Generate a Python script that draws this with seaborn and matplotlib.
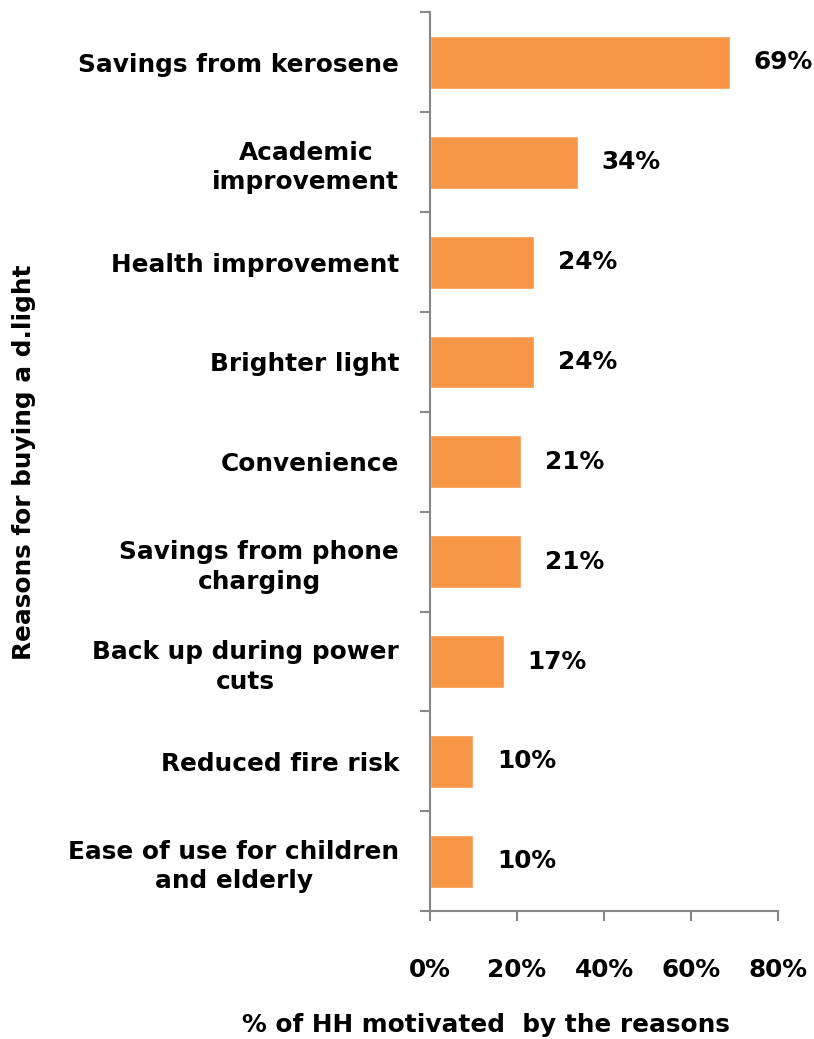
import matplotlib
matplotlib.use("Agg")
import matplotlib.pyplot as plt
import seaborn as sns
import pandas as pd
import numpy as np

reasons = [
    "Savings from kerosene",
    "Academic\nimprovement",
    "Health improvement",
    "Brighter light",
    "Convenience",
    "Savings from phone\ncharging",
    "Back up during power\ncuts",
    "Reduced fire risk",
    "Ease of use for children\nand elderly",
]
shares = [69, 34, 24, 24, 21, 21, 17, 10, 10]
x_ticks = [0, 20, 40, 60, 80]

df = pd.DataFrame({"reason": reasons, "share": shares})

sns.set_style("white")
plt.rcParams["font.family"] = ["DejaVu Sans"]
plt.rcParams["font.weight"] = "bold"
plt.rcParams["text.color"] = "black"
plt.rcParams["axes.labelcolor"] = "black"
plt.rcParams["xtick.labelcolor"] = "black"
plt.rcParams["ytick.labelcolor"] = "black"

fs = 17.8

fig = plt.figure(figsize=(8.14, 10.39), dpi=100)
ax = fig.add_axes([0.528, 0.123, 0.428, 0.865])

sns.barplot(data=df, x="share", y="reason", color="#F79646", saturation=1,
            width=0.53, ax=ax, orient="h")

for i, v in enumerate(shares):
    ax.annotate(f"{v}%", xy=(v, i), xytext=(17, 0), textcoords="offset points",
                ha="left", va="center", fontsize=fs, fontweight="bold")

ax.set_xlim(0, 80)
ax.set_ylim(len(reasons) - 0.5, -0.5)
ax.set_xticks(x_ticks)
ax.set_xticklabels([f"{t}%" for t in x_ticks], fontsize=fs, fontweight="bold")
ax.set_yticks(range(len(reasons)))
ax.set_yticklabels(reasons, fontsize=fs, fontweight="bold", multialignment="center",
                   linespacing=1.3)
ax.set_yticks(np.arange(-0.5, len(reasons), 1), minor=True)

grey = "#878787"
for side in ["top", "right"]:
    ax.spines[side].set_visible(False)
for side in ["left", "bottom"]:
    ax.spines[side].set_color(grey)
    ax.spines[side].set_linewidth(1.5)

ax.tick_params(axis="y", which="major", length=0, pad=22)
ax.tick_params(axis="y", which="minor", length=7, width=1.5, color=grey, direction="out", left=True)
ax.tick_params(axis="x", which="major", length=7, width=1.5, color=grey, direction="out",
               bottom=True, pad=27)

ax.set_xlabel("% of HH motivated  by the reasons", fontsize=fs, fontweight="bold")
ax.xaxis.set_label_coords(0.16, -0.113)
ax.set_ylabel("Reasons for buying a d.light", fontsize=fs, fontweight="bold")
ax.yaxis.set_label_coords(-1.13, 0.5)

fig.savefig("out.png", dpi=100)
